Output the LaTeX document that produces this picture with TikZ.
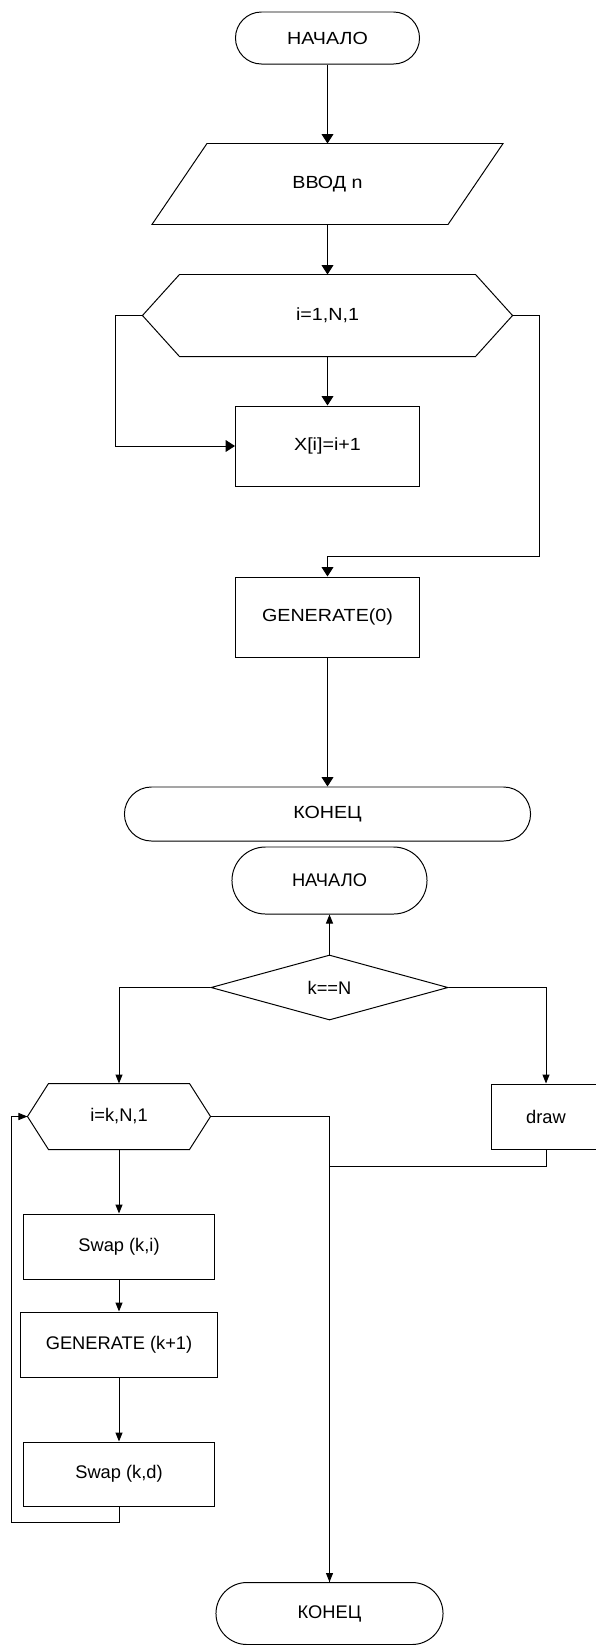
\documentclass[tikz,border=0pt]{standalone}
\usepackage{fontspec}
\setmainfont{Liberation Sans}
\newfontfamily\widesf{Liberation Sans}[FakeStretch=1.12]
\usetikzlibrary{arrows.meta,shapes.geometric}

\begin{document}
\begin{tikzpicture}[x=0.025cm, y=-0.025cm, line width=0.7pt,
    every node/.style={font=\fontsize{13}{15}\selectfont},
    uptext/.style={font=\widesf\fontsize{12.5}{15}\selectfont},
    term/.style={draw, minimum height=#1, rounded corners=#1/2},
    proc/.style={draw, minimum height=1.625cm},
    arr/.style={-{Triangle[length=6.6pt,width=8.3pt]}},
    arrs/.style={-{Triangle[length=6.4pt,width=5pt]}}]
    \useasboundingbox (0,0) rectangle (596,1645);

    % main program
    \node[term=1.3cm, uptext, minimum width=4.6cm] (start1) at (327.5,38) {НАЧАЛО};
    \node[uptext, minimum width=7.375cm, minimum height=2cm] (input) at (327.5,184) {ВВОД n};
    \node[uptext, minimum width=9.225cm, minimum height=2.025cm] (loop1) at (327.5,315.5) {i=1,N,1};
    \node[proc, uptext, minimum width=4.6cm, minimum height=2cm] (box1) at (327.5,446) {X[i]=i+1};
    \node[proc, uptext, minimum width=4.6cm, minimum height=2cm] (gen0) at (327.5,617) {GENERATE(0)};
    \node[term=1.35cm, uptext, minimum width=10.15cm] (end1) at (327.5,814) {КОНЕЦ};

    % GENERATE(k)
    \node[term=1.675cm, minimum width=4.875cm] (start2) at (329.5,880.5) {НАЧАЛО};
    \node[draw, diamond, aspect=3.6, inner sep=0pt, minimum width=5.925cm, minimum height=1.625cm] (cond) at (329.5,987.5) {k==N};
    \node[minimum width=4.55cm, minimum height=1.625cm] (loop2) at (119,1116.5) {i=k,N,1};
    \node[proc, minimum width=2.7cm] (drw) at (546,1116.5) {draw};
    \node[proc, minimum width=4.75cm] (swap1) at (119,1246.5) {Swap (k,i)};
    \node[proc, minimum width=4.94cm] (gen1) at (119,1344.5) {GENERATE (k+1)};
    \node[proc, minimum width=4.75cm, minimum height=1.6cm] (swap2) at (119,1474) {Swap (k,d)};
    \node[term=1.55cm, minimum width=5.675cm] (end2) at (329.5,1613.5) {КОНЕЦ};

    % input and loop outlines
    \draw ([xshift=0.6875cm]input.north west) -- ([xshift=0.6875cm]input.north east)
        -- ([xshift=-0.6875cm]input.south east) -- ([xshift=-0.6875cm]input.south west) -- cycle;
    \foreach \hx/\cut in {loop1/0.925cm, loop2/0.525cm}
        \draw (\hx.west) -- ([xshift=\cut]\hx.north west) -- ([xshift=-\cut]\hx.north east)
            -- (\hx.east) -- ([xshift=-\cut]\hx.south east) -- ([xshift=\cut]\hx.south west) -- cycle;

    \draw[arr] (start1.south) -- (input.north);
    \draw[arr] (input.south) -- (loop1.north);
    \draw[arr] (loop1.south) -- (box1.north);
    \draw[arr] (loop1.west) -- ++(-27,0) |- (box1.west);
    \draw[arr] (loop1.east) -- ++(27,0) |- ([yshift=0.5cm]gen0.north) -- (gen0.north);
    \draw[arr] (gen0.south) -- (end1.north);

    \draw[arrs] (cond.north) -- (start2.south);
    \draw[arrs] (cond.west) -| (loop2.north);
    \draw[arrs] (cond.east) -| (drw.north);
    \draw[arrs] (loop2.south) -- (swap1.north);
    \draw[arrs] (swap1.south) -- (gen1.north);
    \draw[arrs] (gen1.south) -- (swap2.north);
    \draw[arrs] (swap2.south) -- ++(0,16) -- ++(-107.3,0) |- (loop2.west);
    \draw[arrs] (loop2.east) -| (end2.north);
    \draw (drw.south) -- ++(0,17) -| (end2.north);
\end{tikzpicture}
\end{document}
